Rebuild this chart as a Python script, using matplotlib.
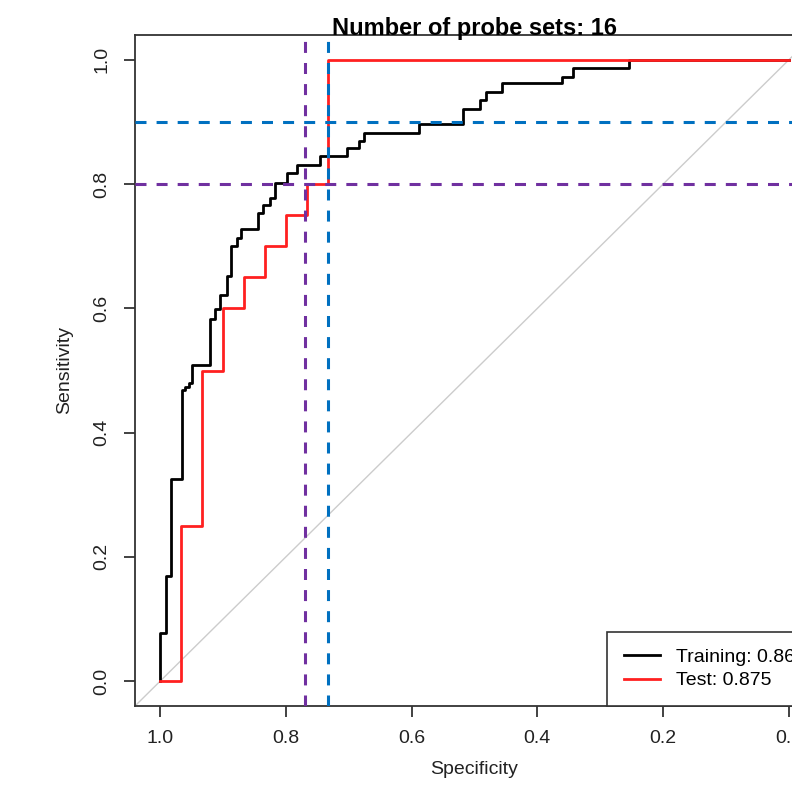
import numpy as np
import matplotlib
matplotlib.use('Agg')
import matplotlib.pyplot as plt

plt.rcParams['font.family'] = ['Liberation Sans', 'DejaVu Sans']

# Curva de treino (pontos onde ocorre cada degrau)
treino_spec = [1.0, 1.0, 0.991, 0.983, 0.9655, 0.961, 0.954, 0.949, 0.9205, 0.9126,
               0.9046, 0.894, 0.888, 0.878, 0.871, 0.844, 0.836, 0.825, 0.817, 0.799,
               0.783, 0.745, 0.703, 0.683, 0.675, 0.588, 0.518, 0.492, 0.482, 0.457,
               0.361, 0.343, 0.2544, 0.0]
treino_sens = [0.0, 0.077, 0.169, 0.326, 0.468, 0.473, 0.480, 0.5085, 0.583, 0.599,
               0.622, 0.652, 0.700, 0.714, 0.727, 0.7535, 0.767, 0.778, 0.8017, 0.818,
               0.830, 0.845, 0.858, 0.8687, 0.883, 0.8966, 0.921, 0.9357, 0.949, 0.9625,
               0.973, 0.9866, 1.0, 1.0]

# Curva de teste
teste_spec = [1.0, 29/30, 28/30, 27/30, 26/30, 25/30, 24/30, 23/30, 22/30, 0.0]
teste_sens = [0.0, 0.25, 0.5, 0.6, 0.65, 0.7, 0.75, 0.8, 1.0, 1.0]

auc_treino = '0.867'
auc_teste = '0.875'
n_probes = 16

# limiares (linhas tracejadas)
corte_spec_roxo = 0.769
corte_spec_azul = 0.733
corte_sens_azul = 0.9
corte_sens_roxo = 0.8

roxo = '#7030A0'
azul = '#0070C0'

fig = plt.figure(figsize=(7.92, 7.92), dpi=100)
ax = fig.add_axes([135/792, 86/792, 679/792, 671/792])

# diagonal
ax.axline((1, 0), (0, 1), color='#cccccc', lw=1.0, zorder=1)

ax.step(treino_spec, treino_sens, where='post', color='black', lw=2, label='Training: ' + auc_treino, zorder=3)
ax.step(teste_spec, teste_sens, where='post', color='#ff2020', lw=2, label='Test: ' + auc_teste, zorder=4)

tr = dict(lw=2.2, dashes=(3.6, 3.3), zorder=5)
ax.axvline(corte_spec_roxo, color=roxo, **tr)
ax.axvline(corte_spec_azul, color=azul, **tr)
ax.axhline(corte_sens_azul, color=azul, **tr)
ax.axhline(corte_sens_roxo, color=roxo, **tr)

ax.set_xlim(1.04, -0.04)
ax.set_ylim(-0.04, 1.04)
ticks = [0.0, 0.2, 0.4, 0.6, 0.8, 1.0]
ax.set_xticks(ticks)
ax.set_yticks(ticks)
ax.set_xticklabels(['%.1f' % t for t in ticks])
ax.set_yticklabels(['%.1f' % t for t in ticks], rotation=90, va='center')

for s in ax.spines.values():
    s.set_color('#333333')
    s.set_linewidth(1.3)
ax.tick_params(axis='both', length=8, width=1.3, color='#333333', labelsize=14, labelcolor='#222222')
ax.tick_params(axis='x', pad=9)
ax.tick_params(axis='y', pad=10)

ax.set_xlabel('Specificity', fontsize=14, labelpad=10, color='#222222')
ax.set_ylabel('Sensitivity', fontsize=14, labelpad=14, color='#222222')
ax.set_title('Number of probe sets: ' + str(n_probes), fontsize=17, fontweight='bold', y=1.0, pad=0)

leg = ax.legend(loc='lower left', bbox_to_anchor=(472/679, 0.0), borderaxespad=0,
                fontsize=14, frameon=True, fancybox=False, framealpha=1,
                handlelength=1.9, labelspacing=0.3, borderpad=0.85, handletextpad=0.8)
leg.get_frame().set_edgecolor('#333333')
leg.get_frame().set_linewidth(1.2)

plt.savefig('out.png', dpi=100)
